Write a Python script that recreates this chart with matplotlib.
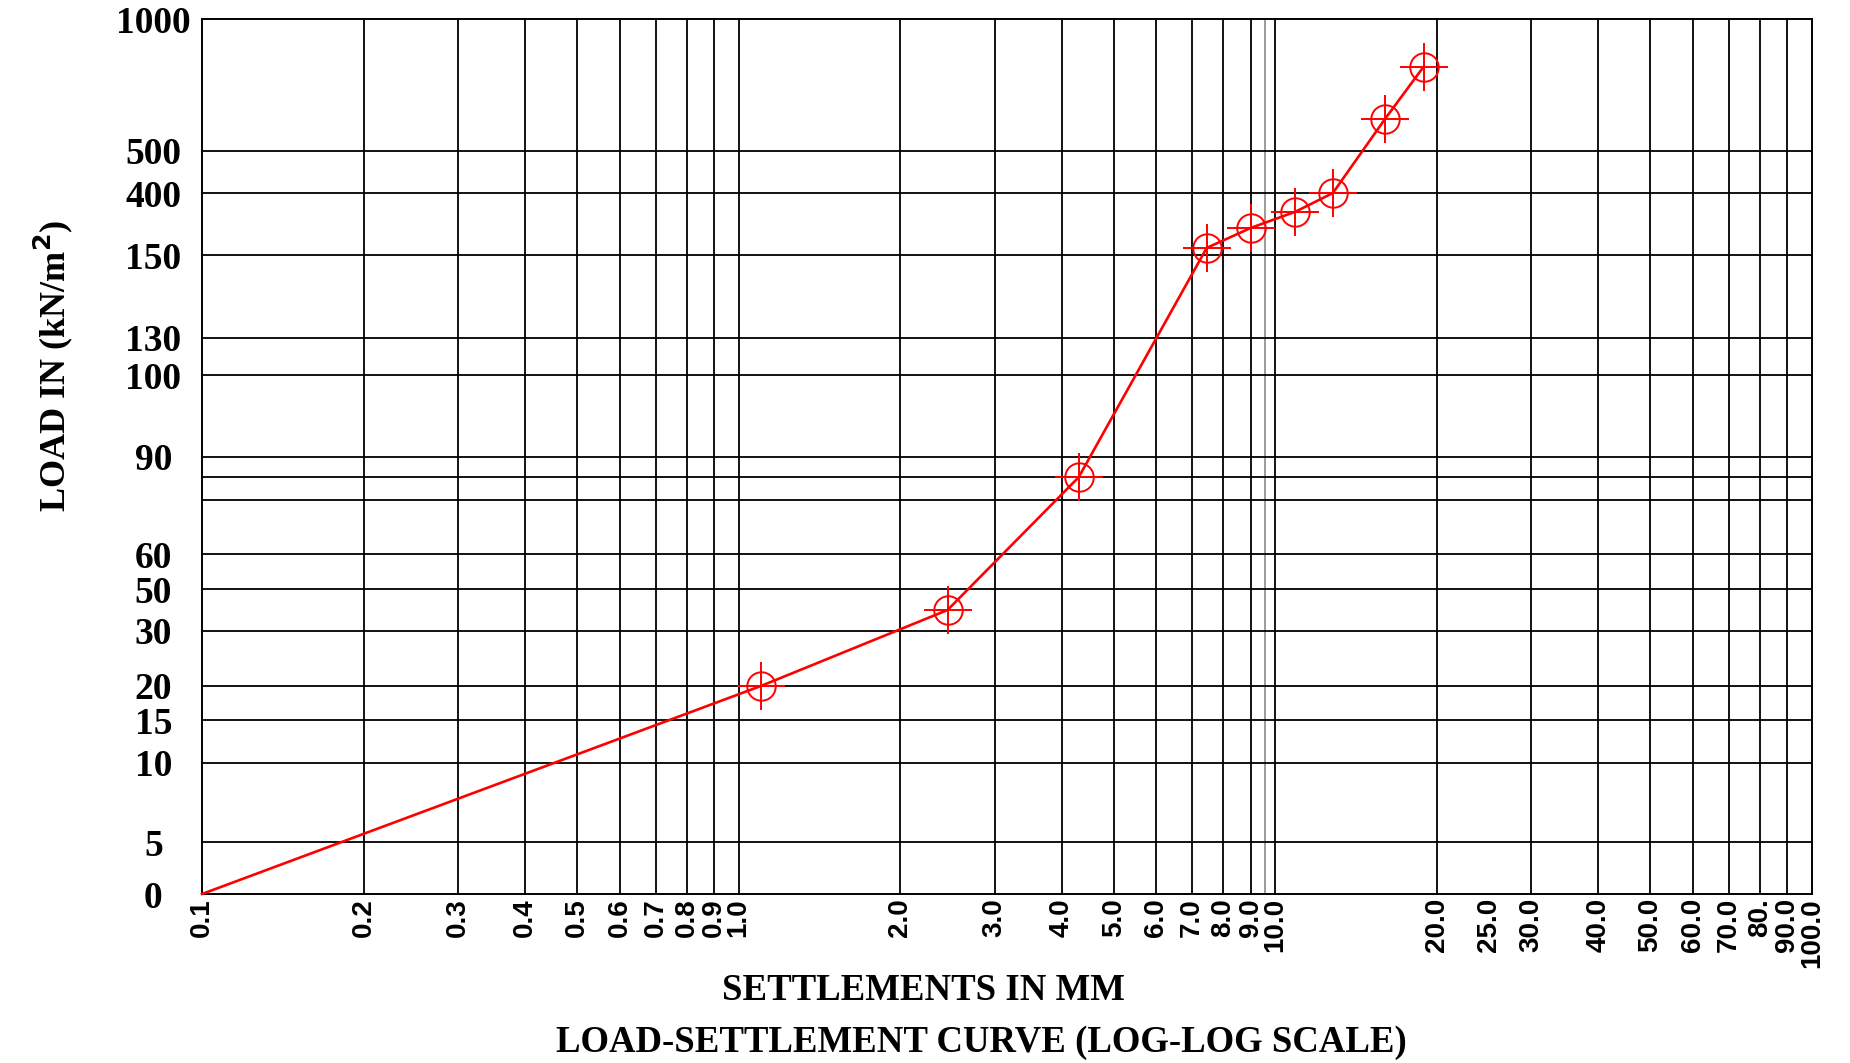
import numpy as np
import matplotlib.pyplot as plt

# load-settlement readings (settlement in mm, load in kN/m2)
settlement = [0.1, 1.1, 2.45, 4.3, 7.45, 9.0, 10.9, 12.8, 16.0, 18.9]
load = [0, 20, 40, 80, 180, 260, 325, 400, 620, 820]

# x axis ticks / labels
x_ticks = [0.1, 0.2, 0.3, 0.4, 0.5, 0.6, 0.7, 0.8, 0.9, 1.0,
           2.0, 3.0, 4.0, 5.0, 6.0, 7.0, 8.0, 9.0, 10.0,
           20.0, 25.0, 30.0, 40.0, 50.0, 60.0, 70.0, 80.0, 90.0, 100.0]
x_labels = ["0.1", "0.2", "0.3", "0.4", "0.5", "0.6", "0.7", "0.8", "0.9", "1.0",
            "2.0", "3.0", "4.0", "5.0", "6.0", "7.0", "8.0", "9.0", "10.0",
            "20.0", "25.0", "30.0", "40.0", "50.0", "60.0", "70.0", "80.", "90.0", "100.0"]
# vertical grid lines (no line at 25, one faint extra near 10)
x_grid = [0.2, 0.3, 0.4, 0.5, 0.6, 0.7, 0.8, 0.9, 1.0,
          2.0, 3.0, 4.0, 5.0, 6.0, 7.0, 8.0, 9.0, 10.0,
          20.0, 30.0, 40.0, 50.0, 60.0, 70.0, 80.0, 90.0]
x_grid_faint = [9.55]

# y axis: grid values and their labels (70 and 80 unlabeled)
y_ticks = [0, 5, 10, 15, 20, 30, 50, 60, 70, 80, 90, 100, 130, 150, 400, 500, 1000]
y_labels = ["0", "5", "10", "15", "20", "30", "50", "60", "", "", "90",
            "100", "130", "150", "400", "500", "1000"]
# the load axis is drawn non-uniform: fraction of axis height for each grid value
y_pos = [0.0, 0.0594, 0.1498, 0.1989, 0.2378, 0.3010, 0.3483, 0.3883, 0.4508,
         0.4764, 0.4999, 0.5929, 0.6357, 0.7301, 0.8014, 0.8498, 1.0]


def fwd(v):
    return np.interp(v, y_ticks, y_pos)


def inv(p):
    return np.interp(p, y_pos, y_ticks)


fig = plt.figure(figsize=(18.5, 10.63), dpi=100)
ax = fig.add_axes([202 / 1850, 1 - 894 / 1063, 1610 / 1850, 874.7 / 1063])

ax.set_xscale("log")
ax.set_yscale("function", functions=(fwd, inv))
ax.set_xlim(0.1, 100)
ax.set_ylim(0, 1000)

# grid
for v in x_grid:
    ax.axvline(v, color="black", lw=1.3, zorder=1)
for v in x_grid_faint:
    ax.axvline(v, color="#8a8a8a", lw=1.2, zorder=1)
for v in y_ticks[1:-1]:
    ax.axhline(v, color="black", lw=1.3, zorder=1)

# curve + markers
ax.plot(settlement, load, color="red", lw=1.9, zorder=3, clip_on=False)
ax.plot(settlement[1:], load[1:], ls="none", marker="o", ms=20.5, mfc="none",
        mec="red", mew=1.4, zorder=4)
ax.plot(settlement[1:], load[1:], ls="none", marker="+", ms=34,
        mec="red", mew=1.4, zorder=4)

ax.xaxis.set_minor_locator(plt.NullLocator())
ax.yaxis.set_minor_locator(plt.NullLocator())
ax.set_xticks(x_ticks, labels=x_labels)
ax.set_yticks(y_ticks, labels=y_labels)
ax.tick_params(axis="both", length=0)
ax.tick_params(axis="x", pad=3)
ax.tick_params(axis="y", pad=35)
for lbl in ax.get_xticklabels():
    lbl.set_rotation(90)
    lbl.set_fontfamily("Liberation Sans")
    lbl.set_fontweight("bold")
    lbl.set_fontsize(20)
for lbl in ax.get_yticklabels():
    lbl.set_fontfamily("Liberation Serif")
    lbl.set_fontweight("bold")
    lbl.set_fontsize(27)
    lbl.set_ha("center")

for s in ax.spines.values():
    s.set_color("black")
    s.set_linewidth(1.4)

serif = "Liberation Serif"
fig.text(53 / 1850, 1 - 366 / 1063, r"LOAD IN (kN/m$^\mathbf{2}$)", rotation=90,
         ha="center", va="center", fontsize=26, family=serif, weight="bold")
fig.text(923 / 1850, 1 - 991 / 1063, "SETTLEMENTS IN MM",
         ha="center", va="center", fontsize=26.5, family=serif, weight="bold")
fig.text(981 / 1850, 1 - 1042 / 1063, "LOAD-SETTLEMENT CURVE (LOG-LOG SCALE)",
         ha="center", va="center", fontsize=26.5, family=serif, weight="bold")

fig.savefig("out.png", dpi=100)
